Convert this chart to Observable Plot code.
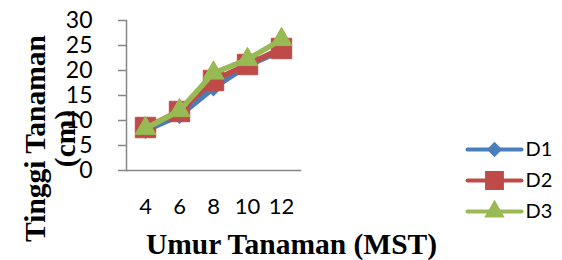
<!DOCTYPE html>
<html>
<head>
<meta charset="utf-8">
<script src="https://cdn.jsdelivr.net/npm/d3@7"></script>
<script src="https://cdn.jsdelivr.net/npm/@observablehq/plot@0.6"></script>
<style>
  html, body { margin: 0; padding: 0; background: #fff; }
  #wrap { position: relative; width: 562px; height: 260px; }
  #legend { position: absolute; left: 440px; top: 0; }
</style>
</head>
<body>
<div id="wrap"><div id="main"></div><div id="legend"></div></div>
<script>
const weeks = [4, 6, 8, 10, 12];
const seriesNames = ["D1", "D2", "D3"];
const D1 = [8, 11, 16.5, 21, 24];
const D2 = [8.6, 11.8, 18, 21.2, 24.4];
const D3 = [8.4, 12, 19.5, 22.2, 26.2];
const yTicks = [0, 5, 10, 15, 20, 25, 30];
const xTitle = "Umur Tanaman (MST)";
const yTitle1 = "Tinggi Tanaman";
const yTitle2 = "(cm)";

const colors = {D1: "#4A7EBB", D2: "#BE4B48", D3: "#98B954"};
const symbols = {D1: "square", D2: "square", D3: "triangle"};
const rotations = {D1: 45, D2: 0, D3: 0};
const radii = {D1: 6.2, D2: 11.5, D3: 7.8};

const values = {D1, D2, D3};
const rows = seriesNames.flatMap(s => weeks.map((w, i) => ({series: s, week: w, value: values[s][i]})));

const marks = [
  Plot.frame({anchor: "left", stroke: "#868686", strokeWidth: 1.5}),
  Plot.frame({anchor: "bottom", stroke: "#868686", strokeWidth: 1.5}),
  Plot.axisY({ticks: yTicks, tickSize: 8, tickPadding: 26, stroke: "#868686", strokeWidth: 1.5, fill: "black", fontSize: 23, label: null}),
  Plot.axisX({tickSize: 0, tickPadding: 28, fill: "black", fontSize: 22, label: null})
];
for (const s of seriesNames) {
  const d = rows.filter(r => r.series === s);
  marks.push(Plot.line(d, {x: "week", y: "value", stroke: colors[s], strokeWidth: 5.5}));
  marks.push(Plot.dot(d, {x: "week", y: "value", symbol: () => symbols[s], rotate: rotations[s], fill: colors[s], stroke: colors[s], strokeWidth: 1, r: radii[s]}));
}
marks.push(Plot.text([xTitle], {frameAnchor: "bottom", textAnchor: "middle", lineAnchor: "middle", dx: 78, dy: 74, fontFamily: "Liberation Serif", fontWeight: "bold", fontSize: 29.5, fill: "black"}));
marks.push(Plot.text([yTitle1], {frameAnchor: "left", textAnchor: "middle", lineAnchor: "middle", rotate: -90, dx: -91, dy: 43, fontFamily: "Liberation Serif", fontWeight: "bold", fontSize: 29.5, fill: "black"}));
marks.push(Plot.text([yTitle2], {frameAnchor: "left", textAnchor: "middle", lineAnchor: "middle", rotate: -90, dx: -61, dy: 43, fontFamily: "Liberation Serif", fontWeight: "bold", fontSize: 29.5, fill: "black"}));

const chart = Plot.plot({
  width: 562,
  height: 260,
  marginLeft: 126,
  marginRight: 262,
  marginTop: 20,
  marginBottom: 90,
  style: {fontFamily: "Lato", fontSize: "22px", color: "black", background: "transparent", overflow: "visible"},
  x: {type: "point", domain: weeks, padding: 0.5},
  y: {domain: [0, 30]},
  symbol: {type: "identity"},
  marks
});
document.getElementById("main").appendChild(chart);

const legend = Plot.plot({
  width: 122,
  height: 260,
  margin: 0,
  style: {fontFamily: "Lato", fontSize: "20px", color: "black", background: "transparent"},
  x: {domain: [0, 1], range: [27, 81], axis: null},
  y: {type: "point", domain: seriesNames, range: [133, 227], axis: null},
  r: {type: "identity"},
  symbol: {type: "identity"},
  marks: [
    Plot.link(seriesNames, {x1: () => 0, x2: () => 1, y1: d => d, y2: d => d, stroke: d => colors[d], strokeWidth: 4, strokeLinecap: "round"}),
    Plot.dot(seriesNames, {x: () => 0.5, y: d => d, symbol: d => symbols[d], rotate: d => rotations[d], fill: d => colors[d], stroke: d => colors[d], r: d => radii[d] * 0.85}),
    Plot.text(seriesNames, {x: () => 1, y: d => d, text: d => d, dx: 4, textAnchor: "start", fill: "black"})
  ]
});
document.getElementById("legend").appendChild(legend);
</script>
</body>
</html>
